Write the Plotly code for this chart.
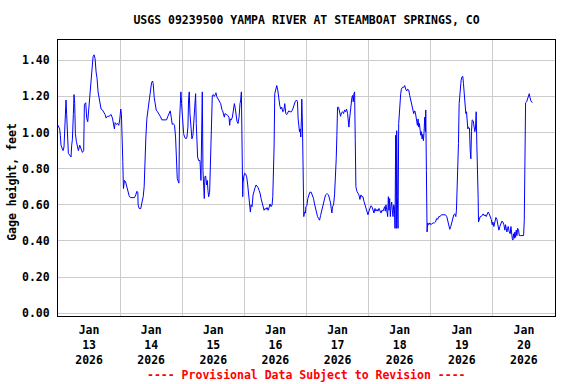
import pandas as pd
import plotly.graph_objects as go

# ---------------- data (hours since 2026-01-13 00:00 local, gage height ft) -------------
seg1_hours = [0, 0.65, 0.9, 1.16, 1.68, 1.94, 2.32, 2.71, 3.10, 3.35,
              3.61, 4.0, 4.52, 5.03, 5.29, 5.55, 5.93, 6.19, 6.45, 6.71,
              7.1, 7.48, 7.87, 8.39, 8.77, 9.42, 9.93, 10.19, 10.71, 11.1,
              11.48, 11.87, 12.38, 12.77, 13.16, 13.55, 13.93, 14.32, 14.71, 15.09,
              15.48, 15.87, 16.25, 16.64, 17.16, 17.67, 18.19, 18.58, 19.09, 19.74,
              20.51, 21.03, 21.41, 21.8, 22.06, 22.58, 23.09, 23.48, 23.87, 24.25,
              24.51, 24.77, 25.03, 25.28, 25.67, 26.06, 26.45, 26.96, 27.48, 27.99,
              28.77, 29.54, 30.06, 30.44, 30.83, 30.96, 31.35, 31.99]
seg1_ft = [1.04, 1.02, 0.985, 0.93, 0.91, 0.90, 0.92, 1.08, 1.18, 1.10,
           0.975, 0.885, 0.875, 0.865, 0.93, 0.96, 1.10, 1.21, 1.16, 0.995,
           0.95, 0.92, 0.90, 0.93, 0.91, 0.89, 0.90, 1.155, 1.165, 1.08,
           1.06, 1.13, 1.24, 1.32, 1.40, 1.42, 1.43, 1.41, 1.335, 1.30,
           1.225, 1.19, 1.16, 1.13, 1.125, 1.115, 1.10, 1.08, 1.09, 1.09,
           1.10, 1.08, 1.045, 1.02, 1.055, 1.045, 1.05, 1.04, 1.075, 1.13,
           1.10, 1.01, 0.84, 0.69, 0.735, 0.73, 0.71, 0.67, 0.65, 0.64,
           0.64, 0.64, 0.655, 0.675, 0.67, 0.60, 0.58, 0.58]

seg2_hours = [32.39, 32.91, 33.29, 33.55, 33.94, 34.33, 34.84, 35.36, 35.75, 36.13,
              36.52, 36.78, 37.16, 37.55, 37.94, 38.45, 38.97, 39.49, 40.13, 40.91,
              41.94, 42.45, 42.97, 43.36, 43.74, 44.13, 44.52, 45.03, 45.42, 45.81,
              46.07, 46.45, 46.71, 46.97, 47.23, 47.48, 47.74, 48.13, 48.52, 48.9,
              49.42, 49.81, 50.19, 50.45, 50.71, 50.97, 51.35, 51.74, 52.13, 52.52,
              52.9, 53.16, 53.42, 53.68, 53.93, 54.32, 54.84, 55.22, 55.48, 55.74,
              56.0, 56.26, 56.51, 56.77, 57.03, 57.42, 57.68, 57.93, 58.19, 58.58,
              58.84, 59.22, 59.48, 59.61, 60.0, 60.38, 60.77, 61.03, 61.29, 61.8,
              62.32, 62.84, 63.35, 63.61]
seg2_ft = [0.61, 0.645, 0.70, 0.865, 0.975, 1.077, 1.13, 1.17, 1.235, 1.275,
           1.285, 1.27, 1.195, 1.16, 1.125, 1.115, 1.105, 1.09, 1.07, 1.07,
           1.07, 1.09, 1.11, 1.12, 1.085, 1.045, 1.05, 1.04, 0.975, 0.855,
           0.745, 0.73, 0.72, 1.07, 1.195, 1.225, 1.16, 1.05, 0.995, 0.975,
           0.965, 0.975, 1.03, 1.185, 1.225, 1.105, 0.995, 0.965, 0.985, 1.085,
           1.16, 1.215, 1.05, 0.93, 0.865, 0.845, 0.845, 0.735, 0.975, 1.225,
           0.79, 0.635, 0.635, 0.755, 0.76, 0.71, 0.735, 0.68, 0.645, 0.67,
           0.79, 0.895, 1.105, 1.205, 1.21, 1.20, 1.21, 1.22, 1.20, 1.185,
           1.175, 1.16, 1.125, 1.12]

seg3_hours = [64.26, 64.52, 65.03, 65.55, 66.07, 66.32, 66.58, 66.97, 67.36, 67.74,
              68.13, 68.52, 68.78, 69.16, 69.55, 69.94, 70.32, 70.58, 70.84, 70.97,
              71.23, 71.36, 71.48, 71.74, 72.13, 72.52, 72.9, 73.29, 73.68, 74.06,
              74.32, 74.58, 74.97, 75.35, 75.74, 76.13, 76.52, 76.9, 77.29, 77.68,
              78.06, 78.45, 78.84, 79.22, 79.61, 80.0, 80.39, 80.77, 81.16, 81.55,
              81.93, 82.32, 82.71, 82.97, 83.22, 83.48, 83.74, 84.13, 84.51, 84.9,
              85.29, 85.67, 86.06, 86.45, 86.84, 87.22, 87.61, 88.0, 88.38, 88.77,
              89.16, 89.67, 90.19, 90.71, 91.09, 91.61, 92.12, 92.51, 92.77, 93.03,
              93.29, 93.54, 93.8, 94.06, 94.19, 94.45, 94.58, 94.83, 94.96, 95.22,
              95.61]
seg3_ft = [1.085, 1.105, 1.10, 1.095, 1.085, 1.04, 1.075, 1.07, 1.085, 1.115,
           1.16, 1.13, 1.085, 1.06, 1.05, 1.085, 1.16, 1.18, 1.225, 1.07,
           0.93, 0.645, 0.72, 0.755, 0.775, 0.77, 0.755, 0.71, 0.665, 0.61,
           0.56, 0.60, 0.59, 0.655, 0.68, 0.695, 0.71, 0.705, 0.695, 0.68,
           0.665, 0.635, 0.61, 0.585, 0.57, 0.58, 0.575, 0.585, 0.57, 0.585,
           0.605, 0.59, 0.60, 0.645, 0.755, 0.92, 1.215, 1.24, 1.26, 1.235,
           1.17, 1.15, 1.13, 1.14, 1.115, 1.12, 1.16, 1.105, 1.10, 1.115,
           1.12, 1.115, 1.115, 1.13, 1.15, 1.17, 1.18, 1.17, 1.075, 1.04,
           1.005, 1.02, 0.975, 1.085, 1.185, 1.03, 0.855, 0.72, 0.535, 0.56,
           0.555]

seg4_hours = [95.74, 96.13, 96.52, 96.9, 97.29, 97.81, 98.32, 98.71, 99.1, 99.48,
              99.87, 100.26, 100.64, 101.03, 101.42, 101.81, 102.19, 102.58, 102.97, 103.35,
              103.74, 104.13, 104.51, 104.9, 105.29, 105.55, 105.8, 106.06, 106.45, 106.84,
              107.22, 107.48, 107.74, 108.0, 108.38, 108.77, 109.16, 109.55, 109.93, 110.32,
              110.71, 111.09, 111.48, 111.87, 112.13, 112.38, 112.64, 112.9, 113.16, 113.55,
              113.8, 114.06, 114.32, 114.58, 114.83, 115.09, 115.48, 115.87, 116.25, 116.64,
              117.03, 117.41, 117.8, 118.19, 118.58, 118.96, 119.35, 119.74, 120.13, 120.51,
              120.9, 121.28, 121.67, 122.06, 122.45, 122.83, 123.22, 123.61, 124.0, 124.38,
              124.77, 125.15, 125.54, 125.93, 126.19, 126.44, 126.7, 126.96, 127.22]
seg4_ft = [0.59, 0.595, 0.635, 0.655, 0.67, 0.67, 0.655, 0.635, 0.605, 0.58,
           0.555, 0.535, 0.525, 0.515, 0.54, 0.565, 0.59, 0.62, 0.64, 0.655,
           0.66, 0.66, 0.655, 0.635, 0.61, 0.58, 0.555, 0.59, 0.60, 0.655,
           0.74, 0.855, 0.985, 1.14, 1.14, 1.12, 1.09, 1.11, 1.115, 1.105,
           1.125, 1.115, 1.13, 1.105, 1.05, 1.03, 1.075, 1.125, 1.17, 1.195,
           1.205, 1.17, 1.215, 1.225, 0.96, 0.70, 0.675, 0.665, 0.655, 0.63,
           0.655, 0.645, 0.645, 0.62, 0.60, 0.58, 0.565, 0.545, 0.565, 0.58,
           0.595, 0.59, 0.565, 0.555, 0.58, 0.565, 0.575, 0.565, 0.58, 0.565,
           0.555, 0.57, 0.565, 0.58, 0.59, 0.565, 0.60, 0.575, 0.545]

seg5_hours = [127.36, 127.62, 127.87, 128.13, 128.39, 128.65, 128.91, 129.17, 129.42, 129.68,
              129.94, 130.2, 130.33, 130.45, 130.71, 130.84, 131.1, 131.36, 131.62, 132.0,
              132.39, 132.65, 133.04, 133.55, 133.94, 134.33, 134.71, 135.1, 135.49, 135.87,
              136.26, 136.65, 137.03, 137.42, 137.81, 138.07, 138.45, 138.84, 139.1, 139.36,
              139.61, 139.87, 140.13, 140.39, 140.65, 140.9, 141.16, 141.42, 141.68, 141.94,
              142.07, 142.32, 142.58, 142.84, 143.23, 143.61, 144.0, 144.39, 144.9, 145.42,
              145.81, 146.32, 146.71, 147.1, 147.61, 148.13, 148.64, 149.16, 149.68, 150.19,
              150.58, 150.97, 151.35, 151.74, 152.13, 152.51, 152.9, 153.29, 153.68, 153.93,
              154.19, 154.45, 154.71, 154.97, 155.35, 155.74, 156.13, 156.38, 156.64, 156.9,
              157.16, 157.55, 157.81, 158.06, 158.32, 158.58, 158.96]
seg5_ft = [0.535, 0.645, 0.57, 0.635, 0.535, 0.59, 0.615, 0.57, 0.535, 0.60,
           0.59, 0.47, 0.83, 0.985, 0.47, 1.01, 0.645, 0.47, 1.05, 1.16,
           1.215, 1.24, 1.25, 1.25, 1.26, 1.24, 1.23, 1.24, 1.235, 1.205,
           1.18, 1.15, 1.125, 1.105, 1.12, 1.11, 1.075, 1.04, 1.075, 1.03,
           1.05, 1.02, 0.985, 1.005, 0.965, 0.99, 0.955, 1.005, 1.085, 1.005,
           1.125, 0.79, 0.45, 0.50, 0.49, 0.50, 0.49, 0.495, 0.50, 0.50,
           0.505, 0.525, 0.52, 0.535, 0.535, 0.545, 0.545, 0.545, 0.545, 0.535,
           0.505, 0.495, 0.465, 0.48, 0.505, 0.515, 0.545, 0.55, 0.535, 0.57,
           0.68, 0.79, 0.94, 1.16, 1.235, 1.29, 1.31, 1.31, 1.27, 1.215,
           1.16, 1.105, 1.115, 1.06, 1.02, 1.03, 1.025]

seg6_hours = [159.23, 159.49, 159.74, 160.0, 160.39, 160.78, 161.03, 161.29, 161.55, 161.81,
              162.07, 162.32, 162.45, 162.71, 163.1, 163.49, 163.87, 164.26, 164.65, 165.03,
              165.42, 165.81, 166.19, 166.58, 166.97, 167.36, 167.74, 168.0, 168.39, 168.77,
              169.16, 169.55, 169.94, 170.32, 170.71, 171.1, 171.48, 171.87, 172.26, 172.64,
              172.9, 173.16, 173.42, 173.68, 173.93, 174.32, 174.71, 174.97, 175.22, 175.48,
              175.74, 176.0, 176.26, 176.51, 176.77, 177.03, 177.29, 177.55, 177.93, 178.19,
              178.58, 179.22, 179.87, 180.13, 180.38, 180.64, 181.03, 181.42, 181.81, 182.06,
              182.32, 182.71, 183.22]
seg6_ft = [0.905, 0.855, 1.005, 1.07, 1.065, 1.035, 1.005, 1.025, 1.115, 0.93,
           0.82, 0.635, 0.505, 0.525, 0.535, 0.535, 0.545, 0.55, 0.54, 0.545,
           0.535, 0.545, 0.56, 0.55, 0.535, 0.52, 0.49, 0.505, 0.48, 0.51,
           0.53, 0.52, 0.49, 0.46, 0.48, 0.50, 0.51, 0.505, 0.49, 0.46,
           0.49, 0.47, 0.45, 0.47, 0.48, 0.45, 0.44, 0.48, 0.44, 0.415,
           0.405, 0.44, 0.415, 0.45, 0.42, 0.46, 0.43, 0.47, 0.46, 0.43,
           0.43, 0.43, 0.43, 0.515, 0.865, 1.165, 1.17, 1.19, 1.205, 1.215,
           1.195, 1.175, 1.165]

day_labels = ["Jan<br>13<br>2026", "Jan<br>14<br>2026", "Jan<br>15<br>2026", "Jan<br>16<br>2026",
              "Jan<br>17<br>2026", "Jan<br>18<br>2026", "Jan<br>19<br>2026", "Jan<br>20<br>2026"]
y_ticks = [0.0, 0.2, 0.4, 0.6, 0.8, 1.0, 1.2, 1.4]

title_text = "USGS 09239500 YAMPA RIVER AT STEAMBOAT SPRINGS, CO"
y_title = "Gage height, feet"
footer = "---- Provisional Data Subject to Revision ----"

# ---------------- build ----------------
hours = seg1_hours + seg2_hours + seg3_hours + seg4_hours + seg5_hours + seg6_hours
gage = seg1_ft + seg2_ft + seg3_ft + seg4_ft + seg5_ft + seg6_ft
assert len(hours) == len(gage)

start = pd.Timestamp("2026-01-13 00:00")
times = start + pd.to_timedelta(hours, unit="h")
midnights = pd.date_range(start, periods=9, freq="D")
noons = pd.date_range(start + pd.Timedelta(hours=12), periods=8, freq="D")

FONT = "DejaVu Sans Mono"
GRID = "#cccccc"

fig = go.Figure(go.Scatter(x=times, y=gage, mode="lines",
                           line=dict(color="#0000ff", width=1), hoverinfo="skip"))

fig.update_layout(
    width=576, height=384,
    margin=dict(l=58, r=21, t=40, b=68),
    paper_bgcolor="white", plot_bgcolor="white",
    showlegend=False,
    font=dict(family=FONT, size=11.5, color="black", weight="bold"),
    title=dict(text=title_text, x=0.5, xref="paper", xanchor="center",
               y=1 - 20 / 384, yanchor="middle",
               font=dict(family=FONT, size=11.5, color="black", weight="bold")),
)

fig.update_xaxes(
    type="date", range=[midnights[0], midnights[-1]],
    tickmode="array", tickvals=noons, ticktext=day_labels,
    ticks="outside", ticklen=3, tickcolor="rgba(0,0,0,0)",
    showgrid=False, zeroline=False,
    showline=True, linecolor="black", linewidth=1, mirror=True,
    tickfont=dict(family=FONT, size=11.5, color="black", weight="bold"),
    minor=dict(tickmode="array", tickvals=midnights, showgrid=True,
               gridcolor=GRID, gridwidth=1, ticks=""),
)

fig.update_yaxes(
    range=[-0.015, 1.512],
    tickmode="array", tickvals=y_ticks, tickformat=".2f",
    ticks="outside", ticklen=5, tickcolor="rgba(0,0,0,0)",
    showgrid=True, gridcolor=GRID, gridwidth=1, zeroline=False,
    showline=True, linecolor="black", linewidth=1, mirror=True,
    tickfont=dict(family=FONT, size=11.5, color="black", weight="bold"),
)

fig.add_annotation(text=y_title, xref="paper", yref="paper",
                   x=-0.0926, y=0.486, xanchor="center", yanchor="middle",
                   textangle=-90, showarrow=False,
                   font=dict(family=FONT, size=11.5, color="black", weight="bold"))

fig.add_annotation(text=footer, xref="paper", yref="paper",
                   x=0.5, y=-0.2138, xanchor="center", yanchor="middle",
                   showarrow=False,
                   font=dict(family=FONT, size=11.5, color="#ff0000", weight="bold"))

fig.write_html("out.html",
               config={"displayModeBar": False, "staticPlot": True},
               post_script="document.body.style.margin='0';document.body.style.overflow='hidden';")
